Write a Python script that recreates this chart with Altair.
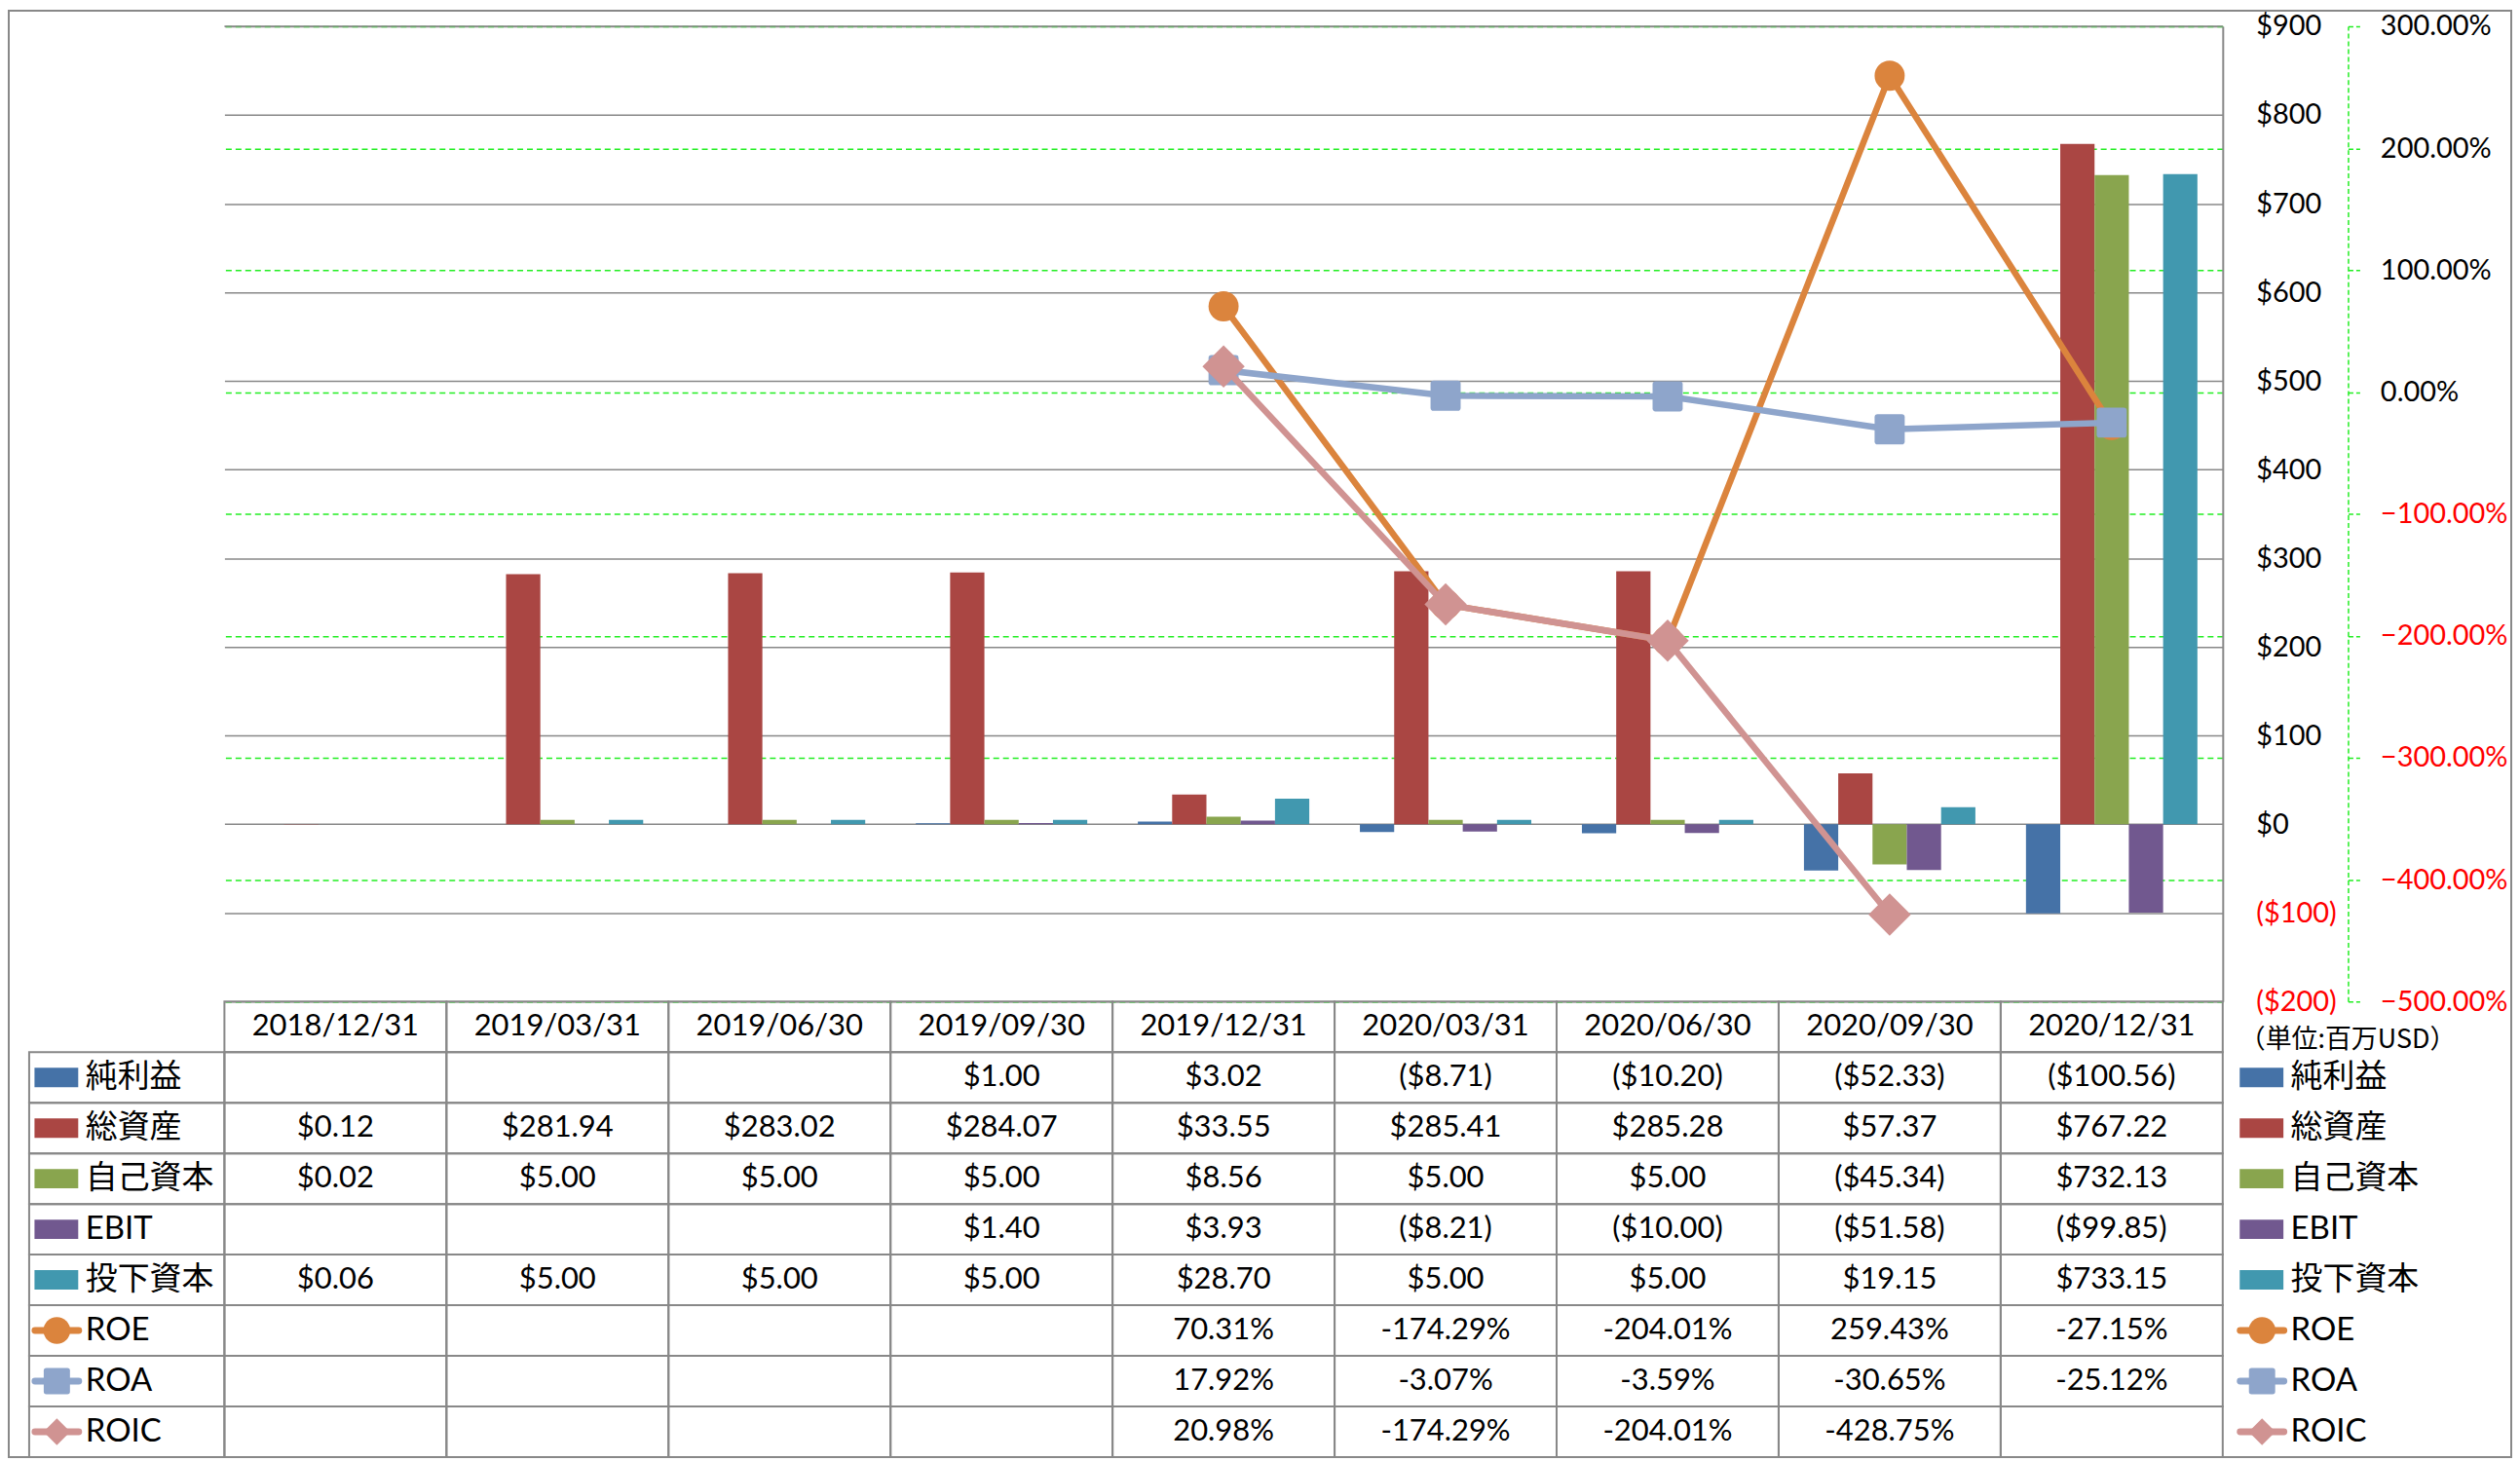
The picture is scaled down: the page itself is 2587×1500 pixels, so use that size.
import altair as alt
import pandas as pd

# ---------------- data ----------------
dates = ["2018/12/31", "2019/03/31", "2019/06/30", "2019/09/30", "2019/12/31",
         "2020/03/31", "2020/06/30", "2020/09/30", "2020/12/31"]
net_income = [None, None, None, 1.00, 3.02, -8.71, -10.20, -52.33, -100.56]
total_assets = [0.12, 281.94, 283.02, 284.07, 33.55, 285.41, 285.28, 57.37, 767.22]
equity = [0.02, 5.00, 5.00, 5.00, 8.56, 5.00, 5.00, -45.34, 732.13]
ebit = [None, None, None, 1.40, 3.93, -8.21, -10.00, -51.58, -99.85]
invested_capital = [0.06, 5.00, 5.00, 5.00, 28.70, 5.00, 5.00, 19.15, 733.15]
roe = [None, None, None, None, 70.31, -174.29, -204.01, 259.43, -27.15]
roa = [None, None, None, None, 17.92, -3.07, -3.59, -30.65, -25.12]
roic = [None, None, None, None, 20.98, -174.29, -204.01, -428.75, None]

bar_names = ["純利益", "総資産", "自己資本", "EBIT", "投下資本"]
bar_values = [net_income, total_assets, equity, ebit, invested_capital]
line_names = ["ROE", "ROA", "ROIC"]
line_values = [roe, roa, roic]

usd_ticks = [-200, -100, 0, 100, 200, 300, 400, 500, 600, 700, 800, 900]
pct_ticks = [-500, -400, -300, -200, -100, 0, 100, 200, 300]
unit_label = "（単位:百万USD）"

# ---------------- styles ----------------
bar_colors = ["#4572A7", "#AA4643", "#89A54E", "#71588F", "#4198AF"]
line_colors = ["#DB843D", "#8EA5CB", "#D09392"]
ROUND_SQ = "M-0.8,-1H0.8Q1,-1,1,-0.8V0.8Q1,1,0.8,1H-0.8Q-1,1,-1,0.8V-0.8Q-1,-1,-0.8,-1Z"
line_shapes = ["circle", ROUND_SQ, "diamond"]
line_sizes = [961, 961, 1900]
key_sizes = [760, 730, 760]
SWATCH = "M-1,-0.444H1V0.444H-1Z"
GRAY = "#888888"
GREEN = "#22EE22"
NUM_FONT = "Lato"
CJK_FONT = "Lato, 'Noto Sans CJK JP'"

W, H_PLOT, H_TAB = 2057, 1004, 469

all_names = bar_names + line_names

# ---------------- frames ----------------
bar_rows = []
for n, vals in zip(bar_names, bar_values):
    for d, v in zip(dates, vals):
        if v is not None:
            bar_rows.append({"date": d, "series": n, "value": v})
bar_df = pd.DataFrame(bar_rows)

line_rows = []
for n, vals in zip(line_names, line_values):
    for d, v in zip(dates, vals):
        if v is not None:
            line_rows.append({"date": d, "series": n, "value": v})
line_df = pd.DataFrame(line_rows)


def fmt_usd(v):
    return f"${v:.2f}" if v >= 0 else f"(${abs(v):.2f})"


tab_rows = []
for n, vals in zip(bar_names, bar_values):
    for d, v in zip(dates, vals):
        if v is not None:
            tab_rows.append({"date": d, "row": n, "label": fmt_usd(v)})
for n, vals in zip(line_names, line_values):
    for d, v in zip(dates, vals):
        if v is not None:
            tab_rows.append({"date": d, "row": n, "label": f"{v:.2f}%"})
tab_df = pd.DataFrame(tab_rows)

rows = ["hdr"] + all_names
cells_df = pd.DataFrame([{"date": d, "row": r} for d in dates for r in rows])
hdr_df = pd.DataFrame({"date": dates, "row": ["hdr"] * len(dates)})
names_df = pd.DataFrame({"row": all_names})

# ---------------- plot ----------------
x_plot = alt.X("date:N", scale=alt.Scale(domain=dates, paddingInner=0, paddingOuter=0), axis=None)

usd_axis = alt.Axis(
    orient="right", values=usd_ticks, title=None,
    labelExpr="datum.value < 0 ? '($' + abs(datum.value) + ')' : '$' + datum.value",
    labelColor={"expr": "datum.value < 0 ? '#FF0000' : '#000000'"},
    labelFont=NUM_FONT, labelFontSize=29, labelPadding=34, labelFlush=False,
    labelOverlap=False, labelBound=False,
    ticks=False, domain=True, domainColor=GRAY, domainWidth=2,
    grid=True, gridColor=GRAY, gridWidth=1.5,
)

pct_axis = alt.Axis(
    orient="right", offset=129, values=pct_ticks, title=None,
    labelExpr="format(datum.value, '.2f') + '%'",
    labelColor={"expr": "datum.value < 0 ? '#FF0000' : '#000000'"},
    labelFont=NUM_FONT, labelFontSize=29, labelPadding=21, labelFlush=False,
    labelOverlap=False, labelBound=False,
    ticks=True, tickColor=GREEN, tickDash=[5, 3], tickSize=12, tickWidth=1.5,
    domain=True, domainColor=GREEN, domainDash=[5, 3], domainWidth=1.5,
    grid=True, gridColor=GREEN, gridDash=[6, 4], gridWidth=1.5,
)

usd_scale = alt.Scale(domain=[-200, 900], nice=False, zero=False)
bars = alt.Chart(bar_df).mark_bar().encode(
    x=x_plot,
    xOffset=alt.XOffset("series:N", scale=alt.Scale(domain=bar_names, paddingInner=0, paddingOuter=0.738)),
    y=alt.Y("value:Q", stack=None, scale=usd_scale, axis=usd_axis),
    y2=alt.datum(0),
    color=alt.Color("series:N", scale=alt.Scale(domain=bar_names, range=bar_colors), legend=None),
)
# top border of the plot area (the $900 gridline drawn above the % grid)
top_line = alt.Chart(pd.DataFrame({"v": [max(usd_ticks)]})).mark_rule(color=GRAY, strokeWidth=1.5).encode(
    y=alt.Y("v:Q", scale=usd_scale, axis=usd_axis)
)

pct_scale = alt.Scale(domain=[-500, 300], nice=False, zero=False)
line_layers = []
for n, c, shp, sz in zip(line_names, line_colors, line_shapes, line_sizes):
    base = alt.Chart(line_df[line_df["series"] == n]).encode(
        x=x_plot, y=alt.Y("value:Q", scale=pct_scale, axis=pct_axis)
    )
    line_layers.append(base.mark_line(color=c, strokeWidth=6.5, strokeCap="round", strokeJoin="round"))
    line_layers.append(base.mark_point(shape=shp, size=sz, filled=True, color=c, opacity=1))

plot = alt.layer(alt.layer(bars, top_line), alt.layer(*line_layers)).resolve_scale(y="independent").properties(
    width=W, height=H_PLOT
)

# ---------------- table ----------------
x_tab = alt.X("date:N", scale=alt.Scale(domain=dates, paddingInner=0, paddingOuter=0), axis=None)
y_tab = alt.Y("row:N", scale=alt.Scale(domain=rows, paddingInner=0, paddingOuter=0), axis=None)

cells = alt.Chart(cells_df).mark_rect(fillOpacity=0, stroke=GRAY, strokeWidth=2).encode(x=x_tab, y=y_tab)
label_cells = alt.Chart(names_df).mark_rect(fillOpacity=0, stroke=GRAY, strokeWidth=2).encode(
    x=alt.value(-201), x2=alt.value(0), y=y_tab
)
hdr_text = alt.Chart(hdr_df).mark_text(font=NUM_FONT, fontSize=31, color="black").encode(
    x=x_tab, y=y_tab, text="date:N"
)
val_text = alt.Chart(tab_df).mark_text(font=NUM_FONT, fontSize=31, color="black").encode(
    x=x_tab, y=y_tab, text="label:N"
)


def key_layers(x0, text_x):
    out = []
    for n, c in zip(bar_names, bar_colors):
        d = pd.DataFrame({"row": [n]})
        out.append(alt.Chart(d).mark_point(shape=SWATCH, size=2025, filled=True, opacity=1, color=c).encode(
            x=alt.value(x0 + 25), y=y_tab))
    for n, c, shp, sz in zip(line_names, line_colors, line_shapes, key_sizes):
        d = pd.DataFrame({"row": [n]})
        out.append(alt.Chart(d).mark_rule(strokeWidth=7, strokeCap="round", color=c).encode(
            x=alt.value(x0 + 3), x2=alt.value(x0 + 48), y=y_tab))
        out.append(alt.Chart(d).mark_point(shape=shp, size=sz, filled=True, opacity=1, color=c).encode(
            x=alt.value(x0 + 25.5), y=y_tab))
    out.append(alt.Chart(names_df).mark_text(font=CJK_FONT, fontSize=33, align="left", color="black").encode(
        x=alt.value(text_x), y=y_tab, text="row:N"))
    return out


left_keys = key_layers(-198, -143)
right_keys = key_layers(2072, 2127)

unit_text = alt.Chart(pd.DataFrame({"row": ["hdr"], "t": [unit_label]})).mark_text(
    font="Noto Sans CJK JP", fontSize=27, align="left", dy=14, color="black"
).encode(x=alt.value(2074), y=y_tab, text="t:N")

# outer border of the whole chart
frame = alt.Chart(pd.DataFrame({"a": [0]})).mark_rect(fillOpacity=0, stroke=GRAY, strokeWidth=2).encode(
    x=alt.value(-222), x2=alt.value(2354), y=alt.value(-(H_PLOT + 16)), y2=alt.value(H_TAB)
)

table = alt.layer(cells, label_cells, hdr_text, val_text, *left_keys, *right_keys, unit_text, frame).properties(
    width=W, height=H_TAB
)

chart = alt.vconcat(plot, table, spacing=0, bounds="flush").properties(padding=0).configure_view(strokeWidth=0)

chart.save("out.html", embed_options={"renderer": "svg", "actions": False})
